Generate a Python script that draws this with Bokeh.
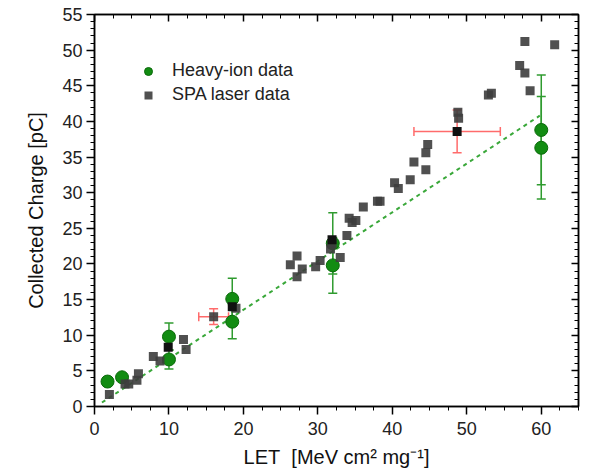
from bokeh.plotting import figure
from bokeh.models import (ColumnDataSource, Whisker, TeeHead, LinearAxis, Legend,
                          LegendItem, FixedTicker, CustomJSTickFormatter)
from bokeh.embed import file_html
from bokeh.resources import INLINE

# ---------------- data ----------------
ion_x = [1.75, 3.7, 10.0, 10.0, 18.5, 18.5, 32.0, 32.0, 60.0, 60.0]
ion_y = [3.5, 4.1, 9.8, 6.6, 15.1, 11.9, 22.9, 19.8, 38.8, 36.3]
ion_err = [0.4, 0.4, 1.9, 1.35, 2.9, 2.4, 4.3, 3.9, 7.7, 7.2]

spa_x = [2.0, 4.1, 4.6, 5.7, 5.9, 7.9, 8.8, 11.95, 12.3, 16.0, 19.0, 26.3, 27.2,
         27.2, 27.9, 29.7, 30.3, 31.7, 31.9, 33.0, 33.9, 34.2, 34.6, 35.1, 36.1,
         38.0, 38.35, 40.3, 40.8, 42.4, 42.9, 44.5, 44.5, 44.75, 48.8, 48.9,
         52.9, 53.3, 57.1, 57.8, 57.8, 58.5, 61.8]
spa_y = [1.7, 3.15, 3.15, 3.7, 4.6, 7.0, 6.4, 9.4, 8.0, 12.6, 13.8, 19.9, 21.1,
         18.2, 19.3, 19.6, 20.5, 22.1, 22.8, 20.9, 24.0, 26.4, 25.8, 26.1, 28.0,
         28.8, 28.8, 31.4, 30.6, 31.8, 34.3, 33.2, 35.6, 36.75, 41.3, 40.45,
         43.7, 43.95, 47.85, 46.8, 51.2, 44.3, 50.75]

spa_dark_x = [9.9, 18.5, 31.9, 48.7]
spa_dark_y = [8.3, 14.0, 23.4, 38.6]

spa_err_x = [16.0, 48.7]
spa_err_y = [12.6, 38.6]
spa_xerr = [2.0, 5.8]
spa_yerr = [1.1, 3.0]

fit_x = [1.0, 59.8]
fit_y = [0.56, 40.8]

x_ticks = [0, 10, 20, 30, 40, 50, 60]
y_ticks = [0, 5, 10, 15, 20, 25, 30, 35, 40, 45, 50, 55]

FONT = "Liberation Sans"
GREEN = "#128c12"
GREEN_EDGE = "#0a6a0a"
GREEN_BAR = "#2f9b2f"
RED_BAR = "#ff6b6b"
GRAY = "#3d3d3d"

p = figure(width=590, height=476, x_range=(0, 65), y_range=(0, 55),
           output_backend="svg", toolbar_location=None,
           min_border_left=94, min_border_right=12, min_border_top=14,
           min_border_bottom=70)
p.xgrid.visible = False
p.ygrid.visible = False
p.outline_line_color = "black"
p.outline_line_width = 1.5
p.background_fill_color = "white"
p.border_fill_color = "white"

# fit line
p.line(fit_x, fit_y, line_color="#3aa83a", line_width=2, line_dash="4 4")

# red error bars (SPA)
rsrc = ColumnDataSource(dict(
    x=spa_err_x, y=spa_err_y,
    xl=[a - b for a, b in zip(spa_err_x, spa_xerr)],
    xu=[a + b for a, b in zip(spa_err_x, spa_xerr)],
    yl=[a - b for a, b in zip(spa_err_y, spa_yerr)],
    yu=[a + b for a, b in zip(spa_err_y, spa_yerr)]))
for dim, base, lo, up in [("width", "y", "xl", "xu"), ("height", "x", "yl", "yu")]:
    w = Whisker(source=rsrc, base=base, lower=lo, upper=up, dimension=dim,
                line_color=RED_BAR, line_width=1.5,
                upper_head=TeeHead(size=9, line_color=RED_BAR, line_width=1.5),
                lower_head=TeeHead(size=9, line_color=RED_BAR, line_width=1.5))
    p.add_layout(w)

# heavy ion error bars
gsrc = ColumnDataSource(dict(
    x=ion_x, y=ion_y,
    lo=[a - b for a, b in zip(ion_y, ion_err)],
    up=[a + b for a, b in zip(ion_y, ion_err)]))
gw = Whisker(source=gsrc, base="x", lower="lo", upper="up", dimension="height",
             line_color=GREEN_BAR, line_width=1.5,
             upper_head=TeeHead(size=9, line_color=GREEN_BAR, line_width=1.5),
             lower_head=TeeHead(size=9, line_color=GREEN_BAR, line_width=1.5))
p.add_layout(gw)

r_ion = p.scatter(ion_x, ion_y, marker="circle", size=13, fill_color=GREEN,
                  line_color=GREEN_EDGE, line_width=1)
r_spa = p.scatter(spa_x, spa_y, marker="square", size=9, fill_color=GRAY,
                  fill_alpha=0.9, line_color=None)
p.scatter(spa_dark_x, spa_dark_y, marker="square", size=9, fill_color="#111111",
          line_color=None)

# axes styling
def style_axis(ax, ticks, minor, show_labels, tick_in):
    ax.ticker = FixedTicker(ticks=ticks, minor_ticks=minor)
    ax.axis_line_color = "black"
    ax.axis_line_width = 1.5
    ax.major_tick_line_color = "black"
    ax.minor_tick_line_color = "black"
    ax.major_tick_line_width = 1.5
    ax.minor_tick_line_width = 1
    if tick_in:
        ax.major_tick_in, ax.major_tick_out = 7, 0
        ax.minor_tick_in, ax.minor_tick_out = 4, 0
    else:
        ax.major_tick_in, ax.major_tick_out = 0, 8
        ax.minor_tick_in, ax.minor_tick_out = 0, 4
    ax.major_label_text_font = FONT
    ax.major_label_text_font_size = "18px"
    ax.major_label_text_color = "#222222"
    if not show_labels:
        ax.formatter = CustomJSTickFormatter(code="return '';")
        ax.major_label_standoff = 0

x_minor = [i * 2.5 for i in range(27)]
y_minor = list(range(56))

style_axis(p.xaxis[0], x_ticks, x_minor, True, False)
style_axis(p.yaxis[0], y_ticks, y_minor, True, False)
p.xaxis[0].major_label_standoff = 7
p.yaxis[0].major_label_standoff = 4

p.xaxis[0].axis_label = "LET\u00a0 [MeV cm² mg⁻¹]"
p.yaxis[0].axis_label = "Collected Charge [pC]"
for ax in (p.xaxis[0], p.yaxis[0]):
    ax.axis_label_text_font = FONT
    ax.axis_label_text_font_style = "normal"
    ax.axis_label_text_font_size = "20px"
    ax.axis_label_text_color = "#111111"
p.xaxis[0].axis_label_standoff = 8
p.yaxis[0].axis_label_standoff = 12

top = LinearAxis()
right = LinearAxis()
style_axis(top, x_ticks, x_minor, False, True)
style_axis(right, y_ticks, y_minor, False, True)
p.add_layout(top, "above")
p.add_layout(right, "right")

legend = Legend(items=[LegendItem(label="Heavy-ion data", renderers=[r_ion]),
                       LegendItem(label="SPA laser data", renderers=[r_spa])],
                location=(44, 301), padding=0, spacing=3, margin=0,
                label_height=20, glyph_height=20, glyph_width=20,
                label_standoff=14, border_line_color=None,
                background_fill_alpha=0,
                label_text_font=FONT, label_text_font_size="18px",
                label_text_color="#222222")
p.add_layout(legend)

open("out.html", "w").write(file_html(p, INLINE))
